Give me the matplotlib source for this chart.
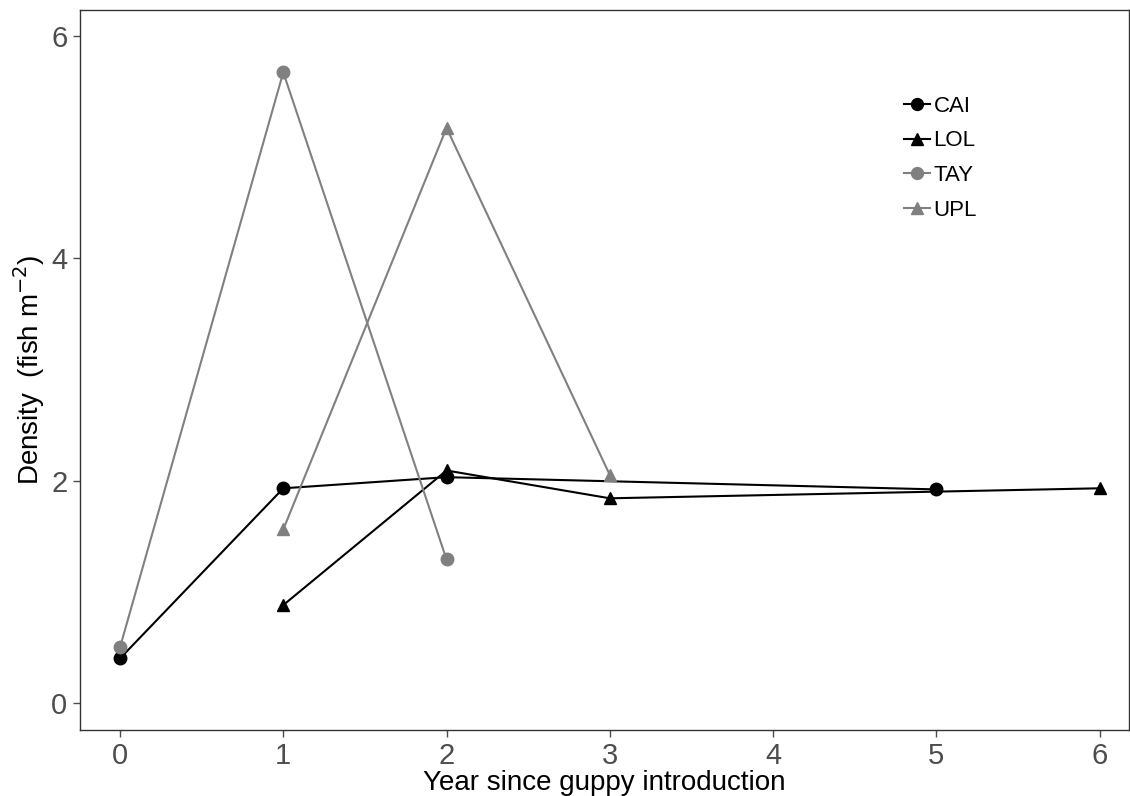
import matplotlib
matplotlib.use('Agg')
import matplotlib.pyplot as plt
from matplotlib import font_manager

names = {f.name for f in font_manager.fontManager.ttflist}
FONT = 'Liberation Sans Narrow' if 'Liberation Sans Narrow' in names else 'Liberation Sans'
plt.rcParams['font.family'] = [FONT, 'DejaVu Sans']

# data
cai_x = [0, 1, 2, 5]
cai_y = [0.40, 1.93, 2.03, 1.92]
lol_x = [1, 2, 3, 6]
lol_y = [0.88, 2.09, 1.84, 1.93]
tay_x = [0, 1, 2]
tay_y = [0.50, 5.67, 1.29]
upl_x = [1, 2, 3]
upl_y = [1.56, 5.17, 2.05]

series = [('CAI', cai_x, cai_y, 'black', 'o'),
          ('LOL', lol_x, lol_y, 'black', '^'),
          ('TAY', tay_x, tay_y, '#808080', 'o'),
          ('UPL', upl_x, upl_y, '#808080', '^')]

fig = plt.figure(figsize=(11.3, 7.96), dpi=100)
ax = fig.add_axes([80 / 1130, 66 / 796, 1049 / 1130, 720 / 796])

for name, xs, ys, col, mk in series:
    ax.plot(xs, ys, color=col, lw=1.5, marker=mk, ms=9, label=name)

ax.set_xlim(-0.245, 6.18)
ax.set_ylim(-0.243, 6.23)
ax.set_xticks(range(7))
ax.set_yticks([0, 2, 4, 6])
ax.tick_params(colors='#4D4D4D', labelsize=21, length=5, width=1, pad=4)
for s in ax.spines.values():
    s.set_color('#333333')
    s.set_linewidth(1)

ax.set_xlabel('Year since guppy introduction', fontsize=20, labelpad=0)
ax.set_ylabel(r'Density  (fish m$^{-2}$)', fontsize=20, labelpad=3)

leg = ax.legend(loc='upper left', bbox_to_anchor=(0.766, 0.909), frameon=False,
                fontsize=16, handlelength=1.2, handletextpad=0.15,
                labelspacing=0.62, markerscale=0.95)

fig.savefig('out.png', dpi=100)
